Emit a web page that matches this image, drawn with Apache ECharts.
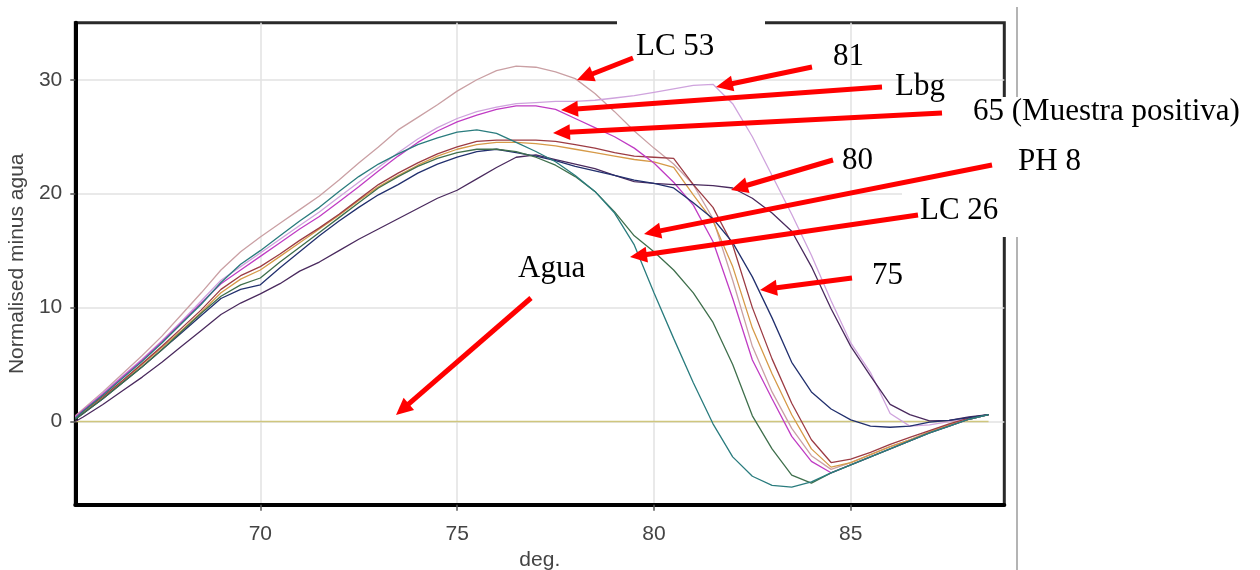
<!DOCTYPE html>
<html><head><meta charset="utf-8">
<script src="https://cdn.jsdelivr.net/npm/echarts@6/dist/echarts.min.js"></script>
<style>html,body{margin:0;padding:0;background:#fff;}#c{width:1260px;height:570px;}</style>
</head><body><div id="c"></div>
<script>
// ---- data (deg. vs Normalised minus agua) ----
const temps = [65.3,65.5,66,66.5,67,67.5,68,68.5,69,69.5,70,70.5,71,71.5,72,72.5,73,73.5,74,74.5,75,75.5,76,76.5,77,77.5,78,78.5,79,79.5,80,80.5,81,81.5,82,82.5,83,83.5,84,84.5,85,85.5,86,86.5,87,87.5,88,88.5];
const lc53 = [0.5,1.1,2.6,4.2,5.8,7.5,9.4,11.3,13.3,14.9,16.2,17.4,18.6,19.8,21.2,22.7,24.1,25.6,26.7,27.8,29.0,30.0,30.8,31.2,31.1,30.7,30.1,28.8,27.2,25.5,24.0,22.6,20.8,17.8,12.4,6.6,2.6,-0.6,-3.0,-4.2,-3.6,-2.9,-2.2,-1.6,-0.9,-0.3,0.2,0.6];
const s81 = [0.4,1.0,2.5,4.0,5.5,7.1,8.8,10.6,12.4,13.6,14.8,16.0,17.2,18.4,19.7,21.0,22.3,23.6,24.8,25.8,26.6,27.2,27.6,27.9,28.0,28.1,28.1,28.2,28.4,28.6,28.9,29.2,29.5,29.6,27.9,25.0,21.6,18.2,14.6,10.6,6.9,4.3,0.7,-0.4,-0.3,0.0,0.3,0.6];
const lbg = [0.4,1.0,2.4,3.9,5.4,7.0,8.7,10.4,12.1,13.3,14.5,15.7,16.9,18.0,19.3,20.6,22.0,23.3,24.5,25.5,26.3,26.9,27.4,27.7,27.7,27.4,26.6,25.8,25.0,24.0,22.7,21.0,19.0,15.8,10.8,5.4,2.0,-1.3,-3.5,-4.5,-3.8,-3.1,-2.4,-1.7,-1.0,-0.4,0.2,0.6];
const s565 = [0.3,0.9,2.2,3.6,5.1,6.6,8.2,9.8,11.6,12.8,13.6,14.7,15.9,17.0,18.2,19.5,20.8,21.8,22.7,23.5,24.1,24.6,24.7,24.7,24.7,24.6,24.3,24.0,23.6,23.3,23.2,23.1,20.8,18.8,15.5,10.0,5.5,1.6,-1.6,-3.6,-3.3,-2.7,-2.0,-1.4,-0.8,-0.2,0.3,0.6];
const sOrange = [0.3,0.8,2.1,3.5,5.0,6.5,8.0,9.6,11.3,12.5,13.3,14.5,15.7,16.9,18.1,19.4,20.6,21.6,22.5,23.3,23.9,24.3,24.5,24.5,24.4,24.2,23.9,23.6,23.3,23.0,22.8,22.3,19.9,17.6,13.6,8.2,4.2,0.6,-2.4,-4.0,-3.6,-2.9,-2.2,-1.6,-0.9,-0.3,0.2,0.6];
const s80 = [0.0,0.4,1.5,2.7,3.9,5.2,6.6,8.0,9.4,10.4,11.2,12.1,13.2,14.0,15.0,16.0,16.9,17.8,18.7,19.6,20.3,21.3,22.3,23.2,23.4,23.0,22.6,22.2,21.6,21.05,20.9,20.8,20.8,20.7,20.5,19.6,18.3,16.7,13.6,9.9,6.6,4.0,1.5,0.6,0.05,0.1,0.4,0.6];
const s75 = [0.2,0.7,2.0,3.4,4.8,6.3,7.8,9.3,10.8,11.6,12.0,13.5,14.9,16.3,17.6,18.8,19.9,20.8,21.8,22.6,23.2,23.7,23.9,23.6,23.3,22.9,22.4,22.0,21.6,21.2,20.9,20.5,19.2,17.8,15.7,12.7,9.1,5.2,2.6,1.1,0.15,-0.4,-0.5,-0.4,-0.05,0.1,0.35,0.6];
const ph8 = [0.2,0.7,2.0,3.4,4.8,6.3,7.9,9.5,11.0,12.0,12.6,14.0,15.3,16.6,17.9,19.2,20.5,21.5,22.4,23.1,23.6,23.9,23.9,23.7,23.2,22.5,21.5,20.2,18.4,16.3,14.9,13.3,11.3,8.7,5.0,0.5,-2.4,-4.7,-5.4,-4.5,-3.8,-3.1,-2.4,-1.7,-1.0,-0.4,0.2,0.6];
const lc26 = [0.3,0.9,2.3,3.8,5.3,6.9,8.6,10.3,12.2,13.8,15.0,16.3,17.6,18.8,20.2,21.5,22.6,23.5,24.3,24.9,25.4,25.6,25.3,24.5,23.7,22.8,21.6,20.2,18.3,15.5,11.3,7.3,3.4,-0.2,-3.1,-4.8,-5.6,-5.75,-5.3,-4.5,-3.8,-3.1,-2.4,-1.7,-1.0,-0.4,0.2,0.6];
const aguaTemps = [65.3, 88.5];
const agua = [0, 0];
const xTicks = [70, 75, 80, 85];
const yTicks = [0, 10, 20, 30];

// ---- styling ----
const seriesDefs = [
  {name:'LC 53', data:lc53, color:'#caa0a4'},
  {name:'81', data:s81, color:'#cfa3dd'},
  {name:'Orange', data:sOrange, color:'#d69a48'},
  {name:'565', data:s565, color:'#9c3c44'},
  {name:'Lbg', data:lbg, color:'#c03cc4'},
  {name:'80', data:s80, color:'#4a2a5e'},
  {name:'75', data:s75, color:'#22306e'},
  {name:'PH 8', data:ph8, color:'#3f6f4c'},
  {name:'LC 26', data:lc26, color:'#2a7c7e'}
];

const series = [{
  name:'Agua', type:'line', showSymbol:false, silent:true,
  data: aguaTemps.map((t,i)=>[t, agua[i]]),
  lineStyle:{color:'#cfc67e', width:1.6}, z:2
}].concat(seriesDefs.map(d=>({
  name:d.name, type:'line', showSymbol:false, silent:true,
  data: temps.map((t,i)=>[t, d.data[i]]),
  lineStyle:{color:d.color, width:1.3}, z:3
})));

// ---- annotation overlay (pixel layout) ----
const labels = [
  {t:'LC 53', x:636, y:47},
  {t:'81', x:833, y:57},
  {t:'Lbg', x:895, y:87},
  {t:'65 (Muestra positiva)', x:973, y:112},
  {t:'80', x:842, y:161},
  {t:'PH 8', x:1018, y:162},
  {t:'LC 26', x:920, y:211},
  {t:'75', x:872, y:276},
  {t:'Agua', x:518, y:269}
];
const arrows = [
  [633,58,577,80],
  [812,67,716,87],
  [882,87,561,110],
  [942,113,553,133],
  [833,160,731,190],
  [992,165,644,234],
  [918,215,630,257],
  [852,278,760,290],
  [531,298,396,415]
];
const boxes = [
  [617,0,148,70],
  [955,97,305,50],
  [995,140,100,45],
  [902,182,116,55]
];

const graphic = [];
graphic.push({type:'line', shape:{x1:1017,y1:7,x2:1017,y2:570}, style:{stroke:'#b4b4b4', lineWidth:2}, z:50});
boxes.forEach(b=>graphic.push({type:'rect', shape:{x:b[0],y:b[1],width:b[2],height:b[3]}, style:{fill:'#fff'}, z:60}));
arrows.forEach(a=>{
  const dx=a[2]-a[0], dy=a[3]-a[1], L=Math.hypot(dx,dy), ux=dx/L, uy=dy/L, nx=-uy, ny=ux;
  const hl=17, hw=8;
  const bx=a[2]-ux*hl, by=a[3]-uy*hl;
  graphic.push({type:'line', shape:{x1:a[0],y1:a[1],x2:bx+ux*2,y2:by+uy*2}, style:{stroke:'#ff0000', lineWidth:5}, z:70});
  graphic.push({type:'polygon', shape:{points:[[a[2],a[3]],[bx+nx*hw,by+ny*hw],[bx-nx*hw,by-ny*hw]]}, style:{fill:'#ff0000'}, z:70});
});
labels.forEach(l=>graphic.push({type:'text', x:l.x, y:l.y, style:{text:l.t, font:'31px "Liberation Serif", "Times New Roman", serif', fill:'#000', verticalAlign:'middle', align:'left'}, z:80}));

const axisFont = {fontFamily:'"Liberation Sans", Arial, sans-serif', fontSize:21, color:'#444'};

const option = {
  animation:false,
  backgroundColor:'#fff',
  grid:{left:75.3, right:255.7, top:22.8, bottom:65.3, containLabel:false, outerBoundsMode:'none',
        show:true, borderColor:'#2a2a2a', borderWidth:3, backgroundColor:'transparent'},
  xAxis:{
    type:'value', min:65.3, max:88.9,
    name:'deg.', nameLocation:'middle', nameGap:45,
    nameTextStyle:axisFont,
    axisLine:{show:true, onZero:false, lineStyle:{color:'#000', width:4}},
    axisTick:{show:true, length:6, customValues:xTicks, lineStyle:{color:'#555', width:1.5}},
    axisLabel:Object.assign({margin:19, customValues:xTicks}, axisFont),
    splitLine:{show:true, lineStyle:{color:'#e2e2e2', width:1.5}}
  },
  yAxis:{
    type:'value', min:-7.3, max:35,
    name:'Normalised minus agua', nameLocation:'middle', nameGap:31,
    nameTextStyle:axisFont,
    axisLine:{show:true, onZero:false, lineStyle:{color:'#000', width:4}},
    axisTick:{show:true, length:5, customValues:yTicks, lineStyle:{color:'#555', width:1.5}},
    axisLabel:Object.assign({margin:13, customValues:yTicks}, axisFont),
    splitLine:{show:true, lineStyle:{color:'#e2e2e2', width:1.5}}
  },
  series:series,
  graphic:graphic
};
const chart = echarts.init(document.getElementById('c'));
chart.setOption(option);
</script>
</body></html>
